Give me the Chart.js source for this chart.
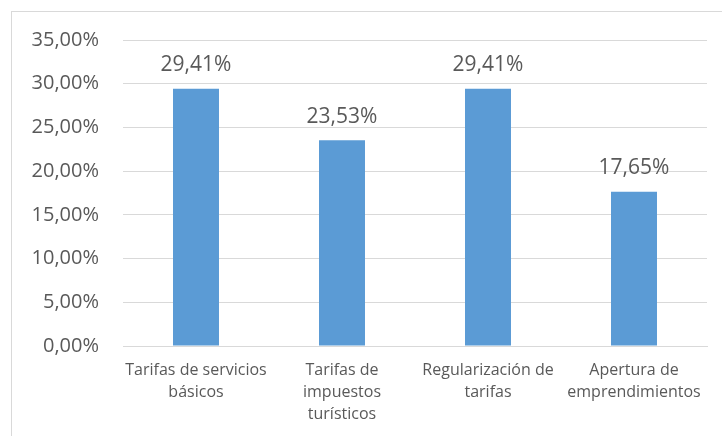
<!DOCTYPE html>
<html>
<head>
<meta charset="utf-8">
<script src="https://cdn.jsdelivr.net/npm/chart.js@4"></script>
<style>
  html, body { margin: 0; padding: 0; background: #fff; }
  #wrap { width: 722px; height: 436px; }
</style>
</head>
<body>
<div id="wrap"><canvas id="chart" width="722" height="436"></canvas></div>
<script>
const categories = [
  ['Tarifas de servicios', 'básicos'],
  ['Tarifas de', 'impuestos', 'turísticos'],
  ['Regularización de', 'tarifas'],
  ['Apertura de', 'emprendimientos']
];
const values = [29.41, 23.53, 29.41, 17.65];
const yTicks = [0, 5, 10, 15, 20, 25, 30, 35];

const pct = v => v.toFixed(2).replace('.', ',') + '%';
const FONT = '"Open Sans", "Liberation Sans", sans-serif';

// outer frame like the spreadsheet chart box
Chart.register({
  id: 'framePlugin',
  beforeDraw(chart) {
    const ctx = chart.ctx;
    ctx.save();
    ctx.fillStyle = '#fff';
    ctx.fillRect(0, 0, chart.width, chart.height);
    ctx.strokeStyle = '#d9d9d9';
    ctx.lineWidth = 1;
    ctx.strokeRect(11.5, 11.5, 800, 500);
    ctx.restore();
  }
});

// value labels above bars
Chart.register({
  id: 'valueLabels',
  afterDatasetsDraw(chart) {
    const ctx = chart.ctx;
    ctx.save();
    ctx.font = '21px ' + FONT;
    ctx.fillStyle = '#595959';
    ctx.textAlign = 'center';
    ctx.textBaseline = 'bottom';
    chart.getDatasetMeta(0).data.forEach((bar, i) => {
      ctx.fillText(pct(values[i]), bar.x, bar.y - 13);
    });
    ctx.restore();
  }
});

new Chart(document.getElementById('chart'), {
  type: 'bar',
  data: {
    labels: categories,
    datasets: [{
      data: values,
      backgroundColor: '#5b9bd5',
      categoryPercentage: 1,
      barPercentage: 0.315
    }]
  },
  options: {
    responsive: false,
    animation: false,
    layout: { padding: { top: 40, right: 15, left: 0, bottom: 0 } },
    plugins: {
      legend: { display: false },
      tooltip: { enabled: false }
    },
    scales: {
      x: {
        grid: { display: false, drawTicks: false },
        border: { color: '#d9d9d9', width: 1 },
        ticks: {
          color: '#595959',
          font: { family: FONT, size: 16, lineHeight: 1.36 },
          padding: 14,
          maxRotation: 0,
          autoSkip: false
        },
        afterFit(axis) { axis.height = 90; }
      },
      y: {
        min: 0,
        max: 35,
        afterBuildTicks(axis) { axis.ticks = yTicks.map(v => ({ value: v })); },
        grid: { color: '#d9d9d9', lineWidth: 1, drawTicks: false },
        border: { display: false },
        ticks: {
          color: '#595959',
          font: { family: FONT, size: 20 },
          padding: 24,
          callback: v => pct(v)
        },
        afterFit(axis) { axis.width = 123; }
      }
    }
  }
});
</script>
</body>
</html>
